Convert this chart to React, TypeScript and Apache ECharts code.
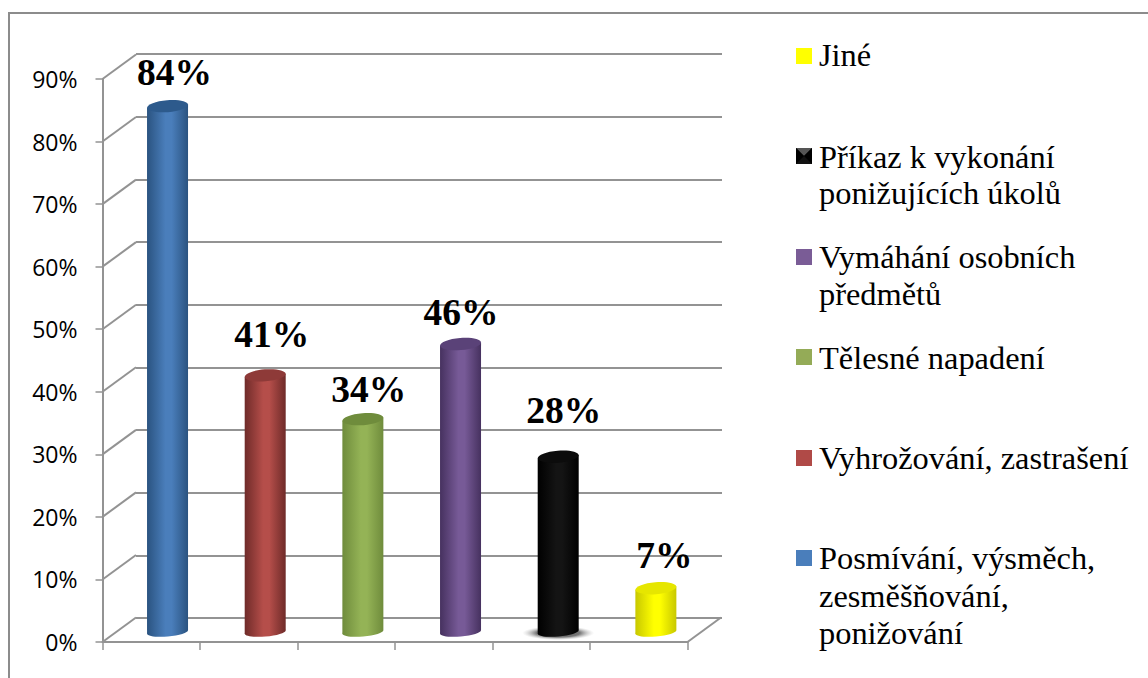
import React, { useEffect, useRef } from "react";
import * as echarts from "echarts";

const categories = [
  "Posmívání, výsměch, zesměšňování, ponižování",
  "Vyhrožování, zastrašení",
  "Tělesné napadení",
  "Vymáhání osobních předmětů",
  "Příkaz k vykonání ponižujících úkolů",
  "Jiné",
];
const values = [84, 41, 34, 46, 28, 7];
const valueLabels = ["84%", "41%", "34%", "46%", "28%", "7%"];
const yTicks = [0, 10, 20, 30, 40, 50, 60, 70, 80, 90];
const gradientEdge = ["#2a5380", "#6f2b29", "#6f8c3c", "#46315f", "#000000", "#c8c800"];
const gradientMid = ["#4a7ebb", "#b54e4a", "#94b356", "#775a97", "#141414", "#ffff00"];
const capColors = ["#2d5a8c", "#8e3a38", "#6f8c3c", "#5a4278", "#0c0c0c", "#e6e600"];
const legendColors = ["#ffff00", "#111111", "#7a5c96", "#94ab57", "#b04a47", "#4a7ebb"];
const legendLines = [
  ["Jiné"],
  ["Příkaz k vykonání", "ponižujících úkolů"],
  ["Vymáhání osobních", "předmětů"],
  ["Tělesné napadení"],
  ["Vyhrožování, zastrašení"],
  ["Posmívání, výsměch,", "zesměšňování,", "ponižování"],
];
const legendSwatchTop = [48, 148, 249, 349, 450, 550];
const legendBaselines = [[64], [166, 202], [266, 303], [367], [467], [567, 605, 642]];
const labelOffsetX = [7, 6.5, 6, 0.5, 5.5, 8.5];
const labelOffsetY = [15, 22, 11, 13, 27, 14];

const GRAY = "#939393";
const SERIF = "'Liberation Serif', 'Times New Roman', serif";
const DEPTH_X = 33.5;
const DEPTH_Y = 24.5;
const BAR_R = 20.5;
const CAP_RY = 6;
const TILT = 0.08;

function renderBar(_: any, api: any) {
  const i = api.value(0);
  const v = api.value(1);
  const [x, top] = api.coord([i, v]);
  const [, base] = api.coord([i, 0]);
  const t = BAR_R * Math.sin(TILT);
  const fill = new echarts.graphic.LinearGradient(0, 0, 1, 0, [
    { offset: 0, color: gradientEdge[i] },
    { offset: 0.45, color: gradientMid[i] },
    { offset: 0.6, color: gradientMid[i] },
    { offset: 1, color: gradientEdge[i] },
  ]);
  const children: any[] = [];
  if (i === 4) {
    children.push({
      type: "ellipse",
      x: x,
      y: base + 1,
      shape: { cx: 0, cy: 0, rx: 36, ry: 7 },
      style: {
        fill: new echarts.graphic.RadialGradient(0.5, 0.5, 0.5, [
          { offset: 0, color: "#555555" },
          { offset: 0.6, color: "#777777" },
          { offset: 1, color: "rgba(200,200,200,0)" },
        ]),
      },
    });
  }
  children.push(
    {
      type: "ellipse",
      x: x,
      y: base,
      rotation: TILT,
      shape: { cx: 0, cy: 0, rx: BAR_R, ry: 4.5 },
      style: { fill },
    },
    {
      type: "polygon",
      shape: {
        points: [
          [x - BAR_R, top + t],
          [x - BAR_R, base + t],
          [x + BAR_R, base - t],
          [x + BAR_R, top - t],
        ],
      },
      style: { fill },
    },
    {
      type: "ellipse",
      x: x,
      y: top,
      rotation: TILT,
      shape: { cx: 0, cy: 0, rx: BAR_R, ry: CAP_RY },
      style: { fill: capColors[i] },
    },
    {
      type: "text",
      x: x + labelOffsetX[i],
      y: top - labelOffsetY[i],
      z2: 50,
      style: {
        text: valueLabels[i],
        fill: "#000000",
        font: `bold 37.5px ${SERIF}`,
        textAlign: "center",
        verticalAlign: "bottom",
      },
    }
  );
  return { type: "group", children };
}

function renderDepth(_: any, api: any) {
  const v = api.value(0);
  const half = api.size([1, 0])[0] / 2;
  const [cx, y] = api.coord([0, v]);
  const x0 = cx - half;
  const lineStyle = { stroke: GRAY, lineWidth: 2, fill: "none" };
  const children: any[] = [
    { type: "line", shape: { x1: x0, y1: y, x2: x0 + DEPTH_X, y2: y - DEPTH_Y }, style: lineStyle },
  ];
  if (v === 0) {
    const x1 = x0 + half * 2 * categories.length;
    children.push({
      type: "line",
      shape: { x1: x1, y1: y, x2: x1 + DEPTH_X, y2: y - DEPTH_Y },
      style: lineStyle,
    });
  }
  return { type: "group", children };
}

function buildLegend() {
  const out: any[] = [];
  legendLines.forEach((lines, k) => {
    const top = legendSwatchTop[k];
    out.push({
      type: "rect",
      shape: { x: 796, y: top, width: 16, height: 16 },
      style: { fill: legendColors[k] },
    });
    if (k === 1) {
      out.push({
        type: "polygon",
        shape: { points: [[796, top], [812, top], [804, top + 8]] },
        style: { fill: "#555555" },
      });
      out.push({
        type: "polygon",
        shape: { points: [[796, top], [804, top + 8], [796, top + 16]] },
        style: { fill: "#000000" },
      });
      out.push({
        type: "polygon",
        shape: { points: [[812, top], [804, top + 8], [812, top + 16]] },
        style: { fill: "#000000" },
      });
    }
    lines.forEach((line, j) => {
      out.push({
        type: "text",
        x: 819,
        y: legendBaselines[k][j] + 7,
        style: {
          text: line,
          fill: "#000000",
          font: `32.4px ${SERIF}`,
          textAlign: "left",
          verticalAlign: "bottom",
        },
      });
    });
  });
  return out;
}

export default function App() {
  const ref = useRef<HTMLDivElement>(null);
  useEffect(() => {
    const chart = echarts.init(ref.current!, null, { renderer: "svg" });
    const frontGrid = { left: 102.5, top: 79, width: 585, height: 563 };
    const backGrid = { left: 136, top: 54, width: 586, height: 564 };
    const midGrid = { left: 118.7, top: 68.6, width: 586, height: 563.4 };
    const yBase = { type: "value", min: 0, max: 90, interval: 10 };
    chart.setOption({
      animation: false,
      backgroundColor: "#ffffff",
      grid: [frontGrid, backGrid, midGrid],
      xAxis: [
        {
          type: "category",
          gridIndex: 0,
          data: categories,
          axisLabel: { show: false },
          axisLine: { show: true, lineStyle: { color: GRAY, width: 2 } },
          axisTick: { show: true, interval: 0, length: 8, lineStyle: { color: GRAY, width: 1.5 } },
          splitLine: { show: false },
        },
        {
          type: "category",
          gridIndex: 1,
          data: categories,
          axisLabel: { show: false },
          axisLine: { show: false },
          axisTick: { show: false },
          splitLine: { show: false },
        },
        { type: "category", gridIndex: 2, data: categories, show: false },
      ],
      yAxis: [
        {
          ...yBase,
          gridIndex: 0,
          axisLabel: {
            formatter: (v: number) => `${v}%`,
            color: "#000000",
            fontFamily: "'Open Sans', sans-serif",
            fontSize: 23,
            margin: 25,
          },
          axisLine: { show: true, lineStyle: { color: GRAY, width: 2 } },
          axisTick: { show: true, length: 7, lineStyle: { color: GRAY, width: 1.5 } },
          splitLine: { show: false },
        },
        {
          ...yBase,
          gridIndex: 1,
          axisLabel: { show: false },
          axisLine: { show: false },
          axisTick: { show: false },
          splitLine: { show: true, lineStyle: { color: GRAY, width: 2 } },
        },
        { ...yBase, gridIndex: 2, show: false },
      ],
      series: [
        {
          type: "custom",
          xAxisIndex: 0,
          yAxisIndex: 0,
          clip: false,
          z: 1,
          data: yTicks.map((v) => [v]),
          encode: { y: 0 },
          renderItem: renderDepth,
        },
        {
          type: "custom",
          xAxisIndex: 2,
          yAxisIndex: 2,
          clip: false,
          z: 5,
          data: values.map((v, i) => [i, v]),
          encode: { x: 0, y: 1 },
          renderItem: renderBar,
        },
      ],
      graphic: [
        {
          type: "rect",
          z: 0,
          shape: { x: 9, y: 13, width: 1300, height: 800 },
          style: { fill: "none", stroke: "#8c8c8c", lineWidth: 2 },
        },
        ...buildLegend(),
      ],
    });
    return () => chart.dispose();
  }, []);
  return (
    <div
      ref={ref}
      style={{ position: "fixed", left: 0, top: 0, width: 1148, height: 678 }}
    />
  );
}
